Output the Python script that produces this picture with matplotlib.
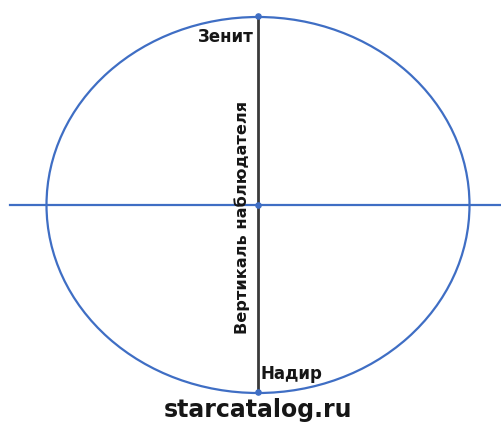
import matplotlib
matplotlib.use("Agg")
import matplotlib.pyplot as plt
from matplotlib.patches import Ellipse

# Diagram values (pixel-like coordinates)
center = (258, 205)
ellipse_width = 423
ellipse_height = 376
horizon_x = [10, 502]
vertical_y = [16, 392]
point_y = [16, 205, 392]
labels = ["Зенит", "Надир", "Вертикаль наблюдателя", "starcatalog.ru"]

blue = "#3f6ec4"
dark = "#3a3a3a"
text_color = "#161616"

fig = plt.figure(figsize=(5.02, 4.23), dpi=100)
ax = fig.add_axes([0, 0, 1, 1])
ax.set_xlim(0, 502)
ax.set_ylim(423, 0)
ax.axis("off")

ax.add_patch(Ellipse(center, ellipse_width, ellipse_height, fill=False,
                     edgecolor=blue, linewidth=1.6, zorder=2))
ax.plot(horizon_x, [center[1], center[1]], color=blue, linewidth=1.6, zorder=2)
ax.plot([center[0], center[0]], vertical_y, color=dark, linewidth=2.0, zorder=3)
ax.scatter([center[0]] * len(point_y), point_y, s=14, color=blue, zorder=4)

ax.text(254, 42, labels[0], ha="right", va="baseline", fontsize=12,
        fontweight="bold", color=text_color)
ax.text(261, 379, labels[1], ha="left", va="baseline", fontsize=12,
        fontweight="bold", color=text_color)
ax.text(242, 217, labels[2], ha="center", va="center", rotation=90,
        fontsize=11.6, fontweight="bold", color=text_color)
ax.text(258, 417, labels[3], ha="center", va="baseline", fontsize=17,
        fontweight="bold", color=text_color)

fig.savefig("out.png", dpi=100)
